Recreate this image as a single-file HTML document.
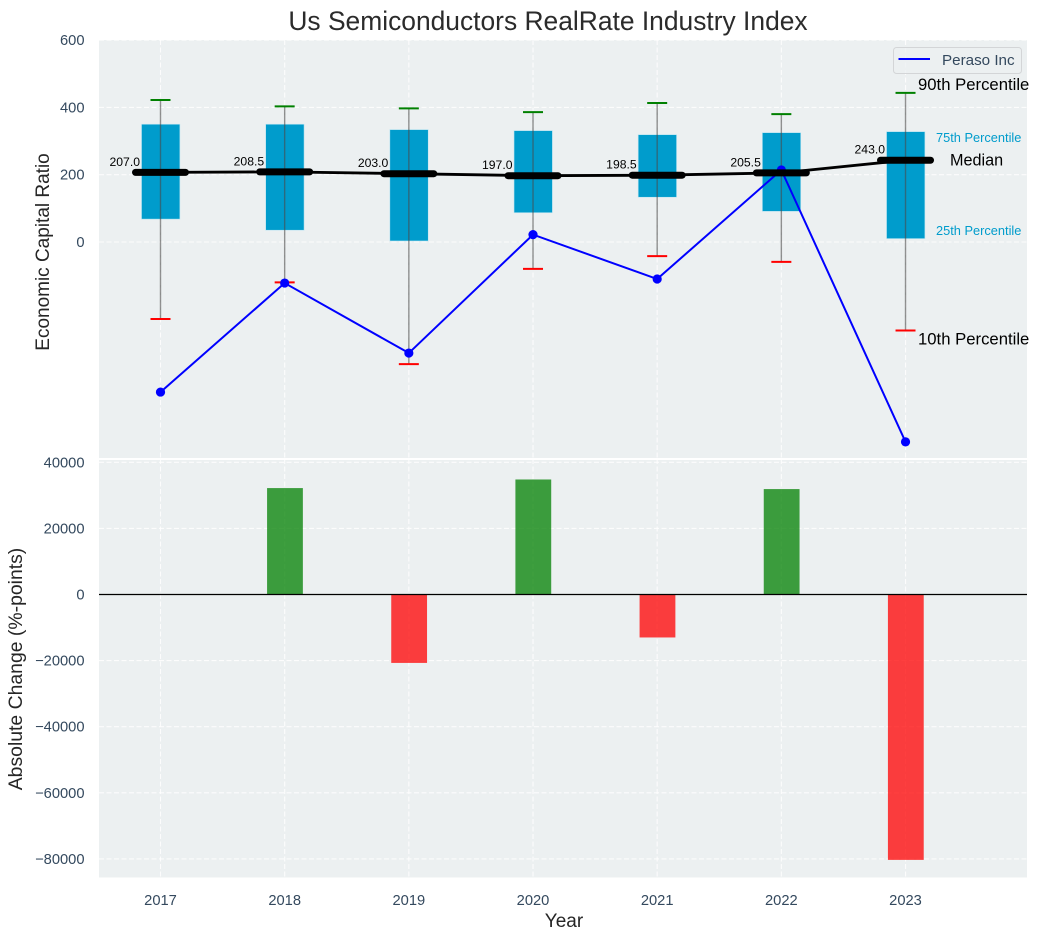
<!DOCTYPE html>
<html lang="en">
<head>
<meta charset="utf-8">
<title>Us Semiconductors RealRate Industry Index</title>
<style>
html,body{margin:0;padding:0;background:#fff;}
svg{display:block;font-family:"Liberation Sans",Arial,sans-serif;}
</style>
</head>
<body>
<svg id="chart" xmlns="http://www.w3.org/2000/svg" width="1038" height="940" viewBox="0 0 1038 940"></svg>
<script>
const years = [2017, 2018, 2019, 2020, 2021, 2022, 2023];
const p90 = [422, 403, 397, 386, 413, 380, 443];
const p75 = [350, 350, 334, 331, 319, 325, 328];
const p25 = [68, 35, 3, 87, 133, 91, 10];
const p10 = [-229, -120, -363, -80, -42, -59, -263];
const medians = [207, 208.5, 203, 197, 198.5, 205.5, 243];
const peraso = [-446, -122, -330, 22, -110, 214, -594];
const changes = [null, 32200, -20700, 34800, -13000, 31900, -80300];
const topTicks = [0, 200, 400, 600];
const bottomTicks = [40000, 20000, 0, -20000, -40000, -60000, -80000];

const NS = 'http://www.w3.org/2000/svg';
const svg = document.getElementById('chart');
const LEFT = 99, RIGHT = 1027;
const TOP_A = 40, TOP_B = 459, BOT_A = 459, BOT_B = 877.5;

function x(year) { return 160.5 + (year - 2017) * 124.17; }
function yTop(v) { return 242 - v * 0.3365; }
function yBot(v) { return 594.5 - v * 0.003305; }

function make(tag, attrs, text) {
  const el = document.createElementNS(NS, tag);
  for (const k in attrs) el.setAttribute(k, attrs[k]);
  if (text !== undefined) el.textContent = text;
  svg.appendChild(el);
  return el;
}
let el;

el = make('rect', {x: LEFT, y: TOP_A, width: RIGHT - LEFT, height: TOP_B - TOP_A, fill: '#ecf0f1'});


el = make('rect', {x: LEFT, y: BOT_A, width: RIGHT - LEFT, height: BOT_B - BOT_A, fill: '#ecf0f1'});



const gridStyle = {stroke: '#fff', 'stroke-width': 1.1, 'stroke-dasharray': '5 2.5', opacity: 0.85};
function line(x1, y1, x2, y2, style) {
  return make('line', Object.assign({x1: x1, y1: y1, x2: x2, y2: y2}, style));
}

years.forEach(function (yr) {
  el = line(x(yr), TOP_A, x(yr), TOP_B, gridStyle);
  
  
  el = line(x(yr), BOT_A, x(yr), BOT_B, gridStyle);
  
  
  el = make('text', {x: x(yr), y: 905, 'text-anchor': 'middle', 'font-size': 14.7, fill: '#34495e'}, String(yr));
  
  
});

topTicks.forEach(function (t) {
  el = line(LEFT, yTop(t), RIGHT, yTop(t), gridStyle);
  
  
  el = make('text', {x: 84.5, y: yTop(t) + 5, 'text-anchor': 'end', 'font-size': 14.7, fill: '#34495e'}, String(t));
  
  
});

bottomTicks.forEach(function (t) {
  el = line(LEFT, yBot(t), RIGHT, yBot(t), gridStyle);
  
  
  el = make('text', {x: 84.5, y: yBot(t) + 5, 'text-anchor': 'end', 'font-size': 14.7, fill: '#34495e'}, String(t).replace('-', '\u2212'));
  
  
});

el = line(LEFT, 459, RIGHT, 459, {stroke: '#fff', 'stroke-width': 2});



/* boxes */
years.forEach(function (yr, i) {
  const cx = x(yr);
  el = make('rect', {x: cx - 19, y: yTop(p75[i]), width: 38.4, height: yTop(p25[i]) - yTop(p75[i]), fill: '#009ccc', stroke: '#bfe6f2', 'stroke-width': 0.6});
  
  
});

/* whiskers and caps */
years.forEach(function (yr, i) {
  const cx = x(yr);
  el = line(cx, yTop(p10[i]), cx, yTop(p90[i]), {stroke: '#4a4a4a', 'stroke-opacity': 0.6, 'stroke-width': 1.4});
  
  
  el = line(cx - 10, yTop(p90[i]), cx + 10, yTop(p90[i]), {stroke: '#008000', 'stroke-width': 2});
  
  
  el = line(cx - 10, yTop(p10[i]), cx + 10, yTop(p10[i]), {stroke: '#ff0000', 'stroke-width': 2});
  
  
});

/* peraso series */
el = make('polyline', {points: years.map(function (yr, i) { return x(yr) + ',' + yTop(peraso[i]); }).join(' '), fill: 'none', stroke: '#0000ff', 'stroke-width': 2});


years.forEach(function (yr, i) {
  el = make('circle', {cx: x(yr), cy: yTop(peraso[i]), r: 4.6, fill: '#0000ff'});
  
  
});

/* median line and marks */
el = make('polyline', {points: years.map(function (yr, i) { return x(yr) + ',' + yTop(medians[i]); }).join(' '), fill: 'none', stroke: '#000', 'stroke-width': 2.8});


years.forEach(function (yr, i) {
  const cx = x(yr);
  el = line(cx - 25, yTop(medians[i]), cx + 25, yTop(medians[i]), {stroke: '#000', 'stroke-width': 7, 'stroke-linecap': 'round'});
  
  
  el = make('text', {x: cx - 20.5, y: yTop(medians[i]) - 6.5, 'text-anchor': 'end', 'font-size': 12.2, fill: '#000'}, medians[i].toFixed(1));
  
  
});

/* percentile annotations on last box */
const last = years.length - 1;
el = make('text', {x: 918, y: yTop(p90[last]) - 3, 'font-size': 16.7, fill: '#000'}, '90th Percentile');


el = make('text', {x: 936, y: yTop(p75[last]) + 10.5, 'font-size': 12.8, fill: '#009ccc'}, '75th Percentile');


el = make('text', {x: 950, y: yTop(medians[last]) + 5.5, 'font-size': 16.2, fill: '#000'}, 'Median');


el = make('text', {x: 936, y: yTop(p25[last]) - 3.6, 'font-size': 12.8, fill: '#009ccc'}, '25th Percentile');


el = make('text', {x: 918, y: yTop(p10[last]) + 14, 'font-size': 16.7, fill: '#000'}, '10th Percentile');



/* bottom bars */
years.forEach(function (yr, i) {
  if (changes[i] === null) return;
  const v = changes[i];
  const y0 = yBot(Math.max(v, 0));
  const y1 = yBot(Math.min(v, 0));
  el = make('rect', {x: x(yr) - 17.6, y: y0, width: 35.8, height: y1 - y0, fill: v >= 0 ? '#008000' : '#ff0000', 'fill-opacity': 0.75});
  
  
});
el = line(LEFT, yBot(0), RIGHT, yBot(0), {stroke: '#000', 'stroke-width': 1.3});



/* legend */
el = make('rect', {x: 893.5, y: 47.5, width: 128, height: 26, rx: 3, fill: '#ecf0f1', 'fill-opacity': 0.8, stroke: '#d3d5d7', 'stroke-width': 1});


el = line(898.5, 59, 930, 59, {stroke: '#0000ff', 'stroke-width': 2});


el = make('text', {x: 942, y: 65, 'font-size': 15.2, fill: '#34495e'}, 'Peraso Inc');



/* titles */
el = make('text', {x: 548, y: 30, 'text-anchor': 'middle', 'font-size': 26.4, fill: '#2b2b2b'}, 'Us Semiconductors RealRate Industry Index');


el = make('text', {x: 564, y: 927, 'text-anchor': 'middle', 'font-size': 19, fill: '#262626'}, 'Year');


el = make('text', {x: 0, y: 0, transform: 'translate(49,252) rotate(-90)', 'text-anchor': 'middle', 'font-size': 19, fill: '#262626'}, 'Economic Capital Ratio');


el = make('text', {x: 0, y: 0, transform: 'translate(22,669) rotate(-90)', 'text-anchor': 'middle', 'font-size': 19.4, fill: '#262626'}, 'Absolute Change (%-points)');


</script>
</body>
</html>
